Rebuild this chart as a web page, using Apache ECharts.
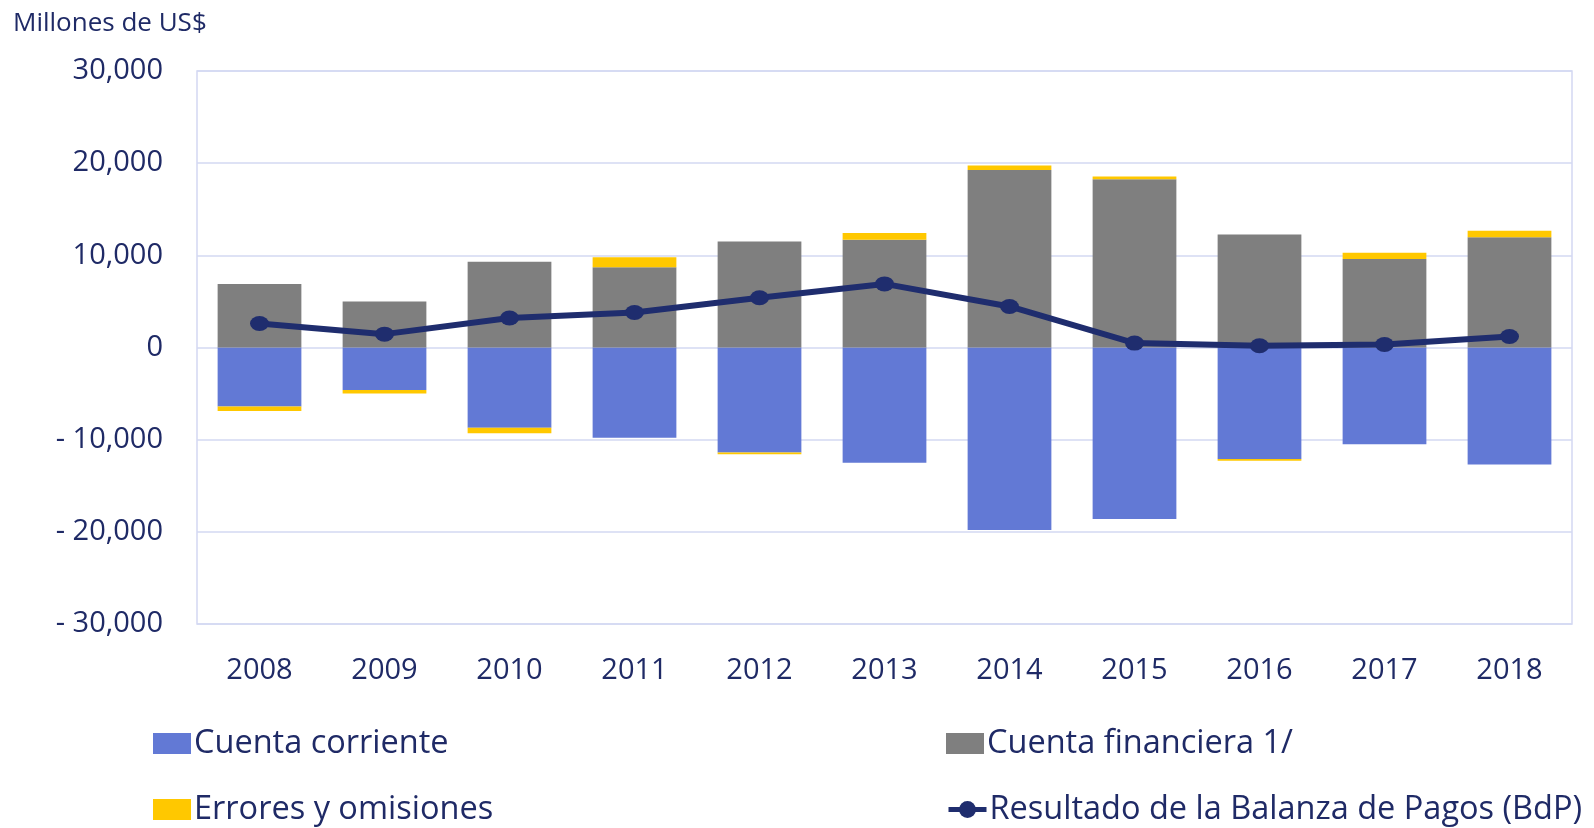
<!DOCTYPE html>
<html>
<head>
<meta charset="utf-8">
<script src="https://cdn.jsdelivr.net/npm/echarts@6/dist/echarts.min.js"></script>
<style>
  html, body { margin: 0; padding: 0; background: #fff; }
  #chart { width: 1594px; height: 828px; }
</style>
</head>
<body>
<div id="chart"></div>
<script>
// años
const years = ['2008', '2009', '2010', '2011', '2012', '2013', '2014', '2015', '2016', '2017', '2018']
// millones de US$
const cuentaCorriente = [-6400, -4600, -8700, -9800, -11400, -12500, -19800, -18600, -12100, -10500, -12700]
const cuentaFinanciera = [6900, 5000, 9300, 8700, 11500, 11700, 19250, 18250, 12250, 9600, 11950]
const erroresOmisiones = [-500, -400, -600, 1100, -170, 720, 500, 290, -200, 690, 720]
const resultadoBdP = [2600, 1450, 3200, 3800, 5400, 6900, 4450, 480, 190, 330, 1190]

const navy = '#1f2a66'
const font = '"Open Sans", sans-serif'

const chart = echarts.init(document.getElementById('chart'))

const fmtY = v => {
  if (v === 0) return '0'
  const s = Math.abs(v).toLocaleString('en-US')
  return v < 0 ? '- ' + s : s
}

// una leyenda por elemento, en dos columnas
const legendItem = (name, left, top, icon) => ({
  left: left,
  top: top,
  padding: 0,
  icon: icon,
  itemWidth: 38,
  itemHeight: 21,
  itemGap: 4,
  lineStyle: { width: 5 },
  textStyle: { fontFamily: font, fontSize: 32.5, color: navy, padding: [0, 0, 0, -2] },
  data: [name]
})

const option = {
  animation: false,
  textStyle: { fontFamily: font, color: navy },
  title: {
    text: 'Millones de US$',
    left: 8,
    top: 6,
    textStyle: { fontFamily: font, fontSize: 26, fontWeight: 'normal', color: navy }
  },
  grid: {
    left: 197,
    right: 22,
    top: 71,
    bottom: 204,
    show: true,
    borderColor: '#d3d8f2',
    borderWidth: 1.5
  },
  legend: [
    legendItem('Cuenta corriente', 153, 727, 'rect'),
    legendItem('Errores y omisiones', 153, 793, 'rect'),
    legendItem('Cuenta financiera 1/', 946, 727, 'rect'),
    legendItem('Resultado de la Balanza de Pagos (BdP)', 946, 793)
  ],
  xAxis: {
    type: 'category',
    data: years,
    axisLine: { show: false },
    axisTick: { show: false },
    axisLabel: { fontFamily: font, fontSize: 29, color: navy, margin: 32 }
  },
  yAxis: {
    type: 'value',
    min: -30000,
    max: 30000,
    interval: 10000,
    axisLine: { show: false },
    axisTick: { show: false },
    splitLine: { lineStyle: { color: '#d3d8f2', width: 1.5 } },
    axisLabel: { fontFamily: font, fontSize: 29, color: navy, margin: 34, formatter: fmtY }
  },
  series: [
    {
      name: 'Cuenta corriente',
      type: 'bar',
      stack: 'bdp',
      barWidth: '67%',
      itemStyle: { color: '#6279d5' },
      data: cuentaCorriente
    },
    {
      name: 'Cuenta financiera 1/',
      type: 'bar',
      stack: 'bdp',
      itemStyle: { color: '#7f7f7f' },
      data: cuentaFinanciera
    },
    {
      name: 'Errores y omisiones',
      type: 'bar',
      stack: 'bdp',
      itemStyle: { color: '#ffc800' },
      data: erroresOmisiones
    },
    {
      name: 'Resultado de la Balanza de Pagos (BdP)',
      type: 'line',
      symbol: 'circle',
      symbolSize: [19, 15],
      lineStyle: { color: '#1f2d6e', width: 6 },
      itemStyle: { color: '#1f2d6e' },
      z: 5,
      data: resultadoBdP
    }
  ]
}

chart.setOption(option)
window.addEventListener('resize', () => chart.resize())
</script>
</body>
</html>
